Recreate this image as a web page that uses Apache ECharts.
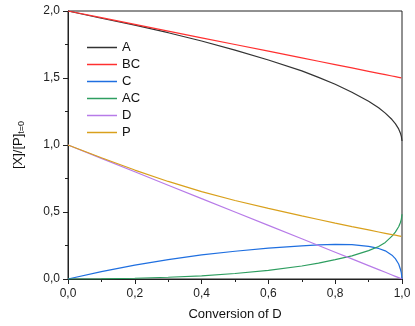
<!DOCTYPE html>
<html>
<head>
<meta charset="utf-8">
<script src="https://cdn.jsdelivr.net/npm/echarts@6/dist/echarts.min.js"></script>
<style>html,body{margin:0;padding:0;background:#fff}#c{width:415px;height:326px}</style>
</head>
<body>
<div id="c"></div>
<script>
// Conversion of D (x values)
var conv = [0, 0.1, 0.2, 0.3, 0.4, 0.5, 0.6, 0.7, 0.75, 0.8, 0.85, 0.9, 0.93, 0.95, 0.97, 0.98, 0.99, 0.995, 0.998, 1.0];
var seriesNames = ['A', 'BC', 'C', 'AC', 'D', 'P'];
var valA  = [2.0, 1.946, 1.894, 1.838, 1.776, 1.708, 1.634, 1.553, 1.505, 1.453, 1.394, 1.326, 1.278, 1.238, 1.19, 1.16, 1.12, 1.09, 1.065, 1.03];
var valBC = [2.0, 1.95, 1.9, 1.85, 1.8, 1.75, 1.7, 1.65, 1.625, 1.6, 1.575, 1.55, 1.535, 1.525, 1.515, 1.51, 1.505, 1.5025, 1.501, 1.5];
var valC  = [0, 0.055, 0.104, 0.145, 0.18, 0.207, 0.23, 0.247, 0.254, 0.258, 0.256, 0.244, 0.228, 0.21, 0.178, 0.152, 0.112, 0.075, 0.045, 0];
var valAC = [0, 0.0015, 0.0055, 0.013, 0.024, 0.041, 0.064, 0.097, 0.119, 0.145, 0.173, 0.212, 0.243, 0.273, 0.32, 0.35, 0.39, 0.42, 0.445, 0.483];
var valD  = [1.0, 0.9, 0.8, 0.7, 0.6, 0.5, 0.4, 0.3, 0.25, 0.2, 0.15, 0.1, 0.07, 0.05, 0.03, 0.02, 0.01, 0.005, 0.002, 0];
var valP  = [1.0, 0.905, 0.813, 0.728, 0.652, 0.586, 0.527, 0.471, 0.444, 0.417, 0.391, 0.366, 0.351, 0.341, 0.331, 0.327, 0.322, 0.319, 0.318, 0.317];
var xTicks = [0, 0.2, 0.4, 0.6, 0.8, 1.0];
var yTicks = [0, 0.5, 1.0, 1.5, 2.0];

var colors = ['#333333', '#ff3030', '#1f6fe0', '#2e9e60', '#b77be8', '#d9a01c'];
var allVals = [valA, valBC, valC, valAC, valD, valP];

function fmt(v) { return v.toFixed(1).replace('.', ','); }

var series = seriesNames.map(function (n, i) {
  return {
    name: n,
    type: 'line',
    symbol: 'none',
    smooth: false,
    lineStyle: { width: 1.2, color: colors[i] },
    itemStyle: { color: colors[i] },
    data: conv.map(function (x, k) { return [x, allVals[i][k]]; }),
    z: 2
  };
});

var chart = echarts.init(document.getElementById('c'), null, { renderer: 'canvas' });
var axisFont = { fontFamily: 'Liberation Sans', fontSize: 12, color: '#222' };
chart.setOption({
  animation: false,
  color: colors,
  grid: { left: 68, right: 13, top: 11, bottom: 46, show: true, borderColor: '#222', borderWidth: 1, backgroundColor: 'transparent' },
  legend: {
    orient: 'vertical',
    left: 82,
    top: 34,
    icon: 'rect',
    itemWidth: 30,
    itemHeight: 1.5,
    itemGap: 0,
    textStyle: { fontFamily: 'Liberation Sans', fontSize: 13, color: '#111', lineHeight: 17, height: 17 },
    data: seriesNames
  },
  xAxis: {
    type: 'value',
    min: xTicks[0],
    max: xTicks[xTicks.length - 1],
    interval: 0.2,
    name: 'Conversion of D',
    nameLocation: 'middle',
    nameGap: 29,
    nameTextStyle: { fontFamily: 'Liberation Sans', fontSize: 13, color: '#111' },
    axisLine: { show: true, onZero: false, lineStyle: { color: '#222', width: 1 } },
    axisTick: { show: true, inside: false, length: 5, lineStyle: { color: '#222' } },
    minorTick: { show: true, splitNumber: 2, length: 3, lineStyle: { color: '#222' } },
    axisLabel: Object.assign({ margin: 9, formatter: fmt }, axisFont),
    splitLine: { show: false }
  },
  yAxis: {
    type: 'value',
    min: yTicks[0],
    max: yTicks[yTicks.length - 1],
    interval: 0.5,
    name: '[X]/[P]{sub|t=0}',
    nameLocation: 'middle',
    nameGap: 42,
    nameTextStyle: {
      fontFamily: 'Liberation Sans', fontSize: 13, color: '#111',
      rich: { sub: { fontFamily: 'Liberation Sans', fontSize: 9, color: '#111', verticalAlign: 'bottom', padding: [6, 0, 0, 0] } }
    },
    axisLine: { show: true, onZero: false, lineStyle: { color: '#222', width: 1 } },
    axisTick: { show: true, inside: false, length: 5, lineStyle: { color: '#222' } },
    minorTick: { show: true, splitNumber: 2, length: 3, lineStyle: { color: '#222' } },
    axisLabel: Object.assign({ margin: 8, formatter: fmt }, axisFont),
    splitLine: { show: false }
  },
  series: series
});
</script>
</body>
</html>
